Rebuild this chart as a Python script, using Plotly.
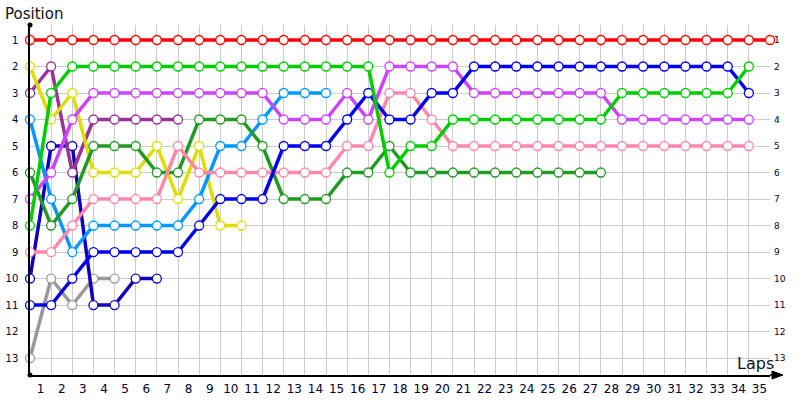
import plotly.graph_objects as go

laps_total = 35

# positions per lap, starting at lap 0 (grid)
red = [1] * 36
green = [8, 3, 2, 2, 2, 2, 2, 2, 2, 2, 2, 2, 2, 2, 2, 2, 2, 6, 5, 5, 4, 4, 4, 4, 4, 4, 4, 4, 3, 3, 3, 3, 3, 3, 2]
blue = [11, 11, 10, 9, 9, 9, 9, 9, 8, 7, 7, 7, 5, 5, 5, 4, 3, 4, 4, 3, 3, 2, 2, 2, 2, 2, 2, 2, 2, 2, 2, 2, 2, 2, 3]
violet = [7, 6, 4, 3, 3, 3, 3, 3, 3, 3, 3, 3, 4, 4, 4, 3, 4, 2, 2, 2, 2, 3, 3, 3, 3, 3, 3, 3, 4, 4, 4, 4, 4, 4, 4]
pink = [9, 9, 8, 7, 7, 7, 7, 5, 6, 6, 6, 6, 6, 6, 6, 5, 5, 3, 3, 4, 5, 5, 5, 5, 5, 5, 5, 5, 5, 5, 5, 5, 5, 5, 5]
dark_green = [6, 8, 7, 5, 5, 5, 6, 6, 4, 4, 4, 5, 7, 7, 7, 6, 6, 5, 6, 6, 6, 6, 6, 6, 6, 6, 6, 6]
light_blue = [4, 7, 9, 8, 8, 8, 8, 8, 7, 5, 5, 4, 3, 3, 3]
yellow = [2, 4, 3, 6, 6, 6, 5, 7, 5, 8, 8]
purple = [3, 2, 6, 4, 4, 4, 4, 4]
navy = [10, 5, 5, 11, 11, 10, 10]
gray = [13, 10, 11, 10, 10]

series = [
    (gray, "#999999"),
    (navy, "#1100bb"),
    (purple, "#993399"),
    (yellow, "#dddd00"),
    (light_blue, "#0099ff"),
    (dark_green, "#229922"),
    (pink, "#ff88aa"),
    (violet, "#cc44ff"),
    (blue, "#0000ee"),
    (green, "#00cc00"),
    (red, "#ff0000"),
]

fig = go.Figure()

for positions, color in series:
    fig.add_trace(
        go.Scatter(
            x=list(range(len(positions))),
            y=positions,
            mode="lines+markers",
            line=dict(color=color, width=3.5),
            marker=dict(size=9, color="white", line=dict(color=color, width=1.3)),
            showlegend=False,
            hoverinfo="skip",
            cliponaxis=False,
        )
    )

# empty trace so the right-hand axis gets drawn
fig.add_trace(go.Scatter(x=[None], y=[None], yaxis="y2", showlegend=False))

y_range = [13.64, 0.434]
lap_labels = [str(k) for k in range(1, laps_total + 1)]

fig.update_layout(
    width=800,
    height=400,
    margin=dict(l=30, r=30, t=25, b=25),
    plot_bgcolor="white",
    paper_bgcolor="white",
    font=dict(family="DejaVu Sans", color="#000033"),
    xaxis=dict(
        range=[0, laps_total],
        tickvals=[k - 0.5 for k in range(1, laps_total + 1)],
        ticktext=lap_labels,
        ticks="",
        showgrid=False,
        zeroline=False,
        showline=True,
        linecolor="black",
        linewidth=1.5,
        automargin=False,
        tickfont=dict(size=12),
        ticklabelstandoff=2,
        minor=dict(tickvals=list(range(0, laps_total + 1)), showgrid=True,
                   gridcolor="#cccccc", gridwidth=1, ticks=""),
    ),
    yaxis=dict(
        range=y_range,
        tickvals=list(range(1, 14)),
        ticks="",
        showgrid=True,
        gridcolor="#cccccc",
        gridwidth=1,
        zeroline=False,
        showline=True,
        linecolor="black",
        linewidth=1.5,
        automargin=False,
        tickfont=dict(size=10),
        ticklabelstandoff=8,
    ),
    yaxis2=dict(
        range=y_range,
        overlaying="y",
        side="right",
        tickvals=list(range(1, 14)),
        ticks="",
        showgrid=False,
        zeroline=False,
        showline=False,
        automargin=False,
        tickfont=dict(size=9),
        ticklabelstandoff=3,
    ),
)

# lap axis continues past the last lap and ends in an arrow
fig.add_shape(type="line", xref="paper", yref="paper", x0=1, x1=1.012, y0=0, y1=0,
              line=dict(color="black", width=1.5), layer="above")
fig.add_shape(type="path", xref="paper", yref="paper",
              path="M 1.0027,0.0114 L 1.0176,0 L 1.0027,-0.0114 Z",
              fillcolor="black", line=dict(color="black", width=1), layer="above")
# dots at both ends of the position axis
for y_end in [0, 1]:
    fig.add_shape(type="circle", xref="paper", yref="paper",
                  xsizemode="pixel", ysizemode="pixel", xanchor=0, yanchor=y_end,
                  x0=-2.5, x1=2.5, y0=-2.5, y1=2.5,
                  fillcolor="black", line=dict(width=0), layer="above")

fig.add_annotation(xref="paper", yref="paper", x=-0.036, y=1.0, yanchor="bottom", xanchor="left",
                   text="Position", showarrow=False, font=dict(size=15, color="#111111"))
fig.add_annotation(xref="paper", yref="paper", x=1.008, y=0.0, yanchor="bottom", xanchor="right",
                   text="Laps", showarrow=False, font=dict(size=16, color="#111111"))

fig.write_html("out.html", config={"displayModeBar": False},
               post_script="document.body.style.margin = '0';")
